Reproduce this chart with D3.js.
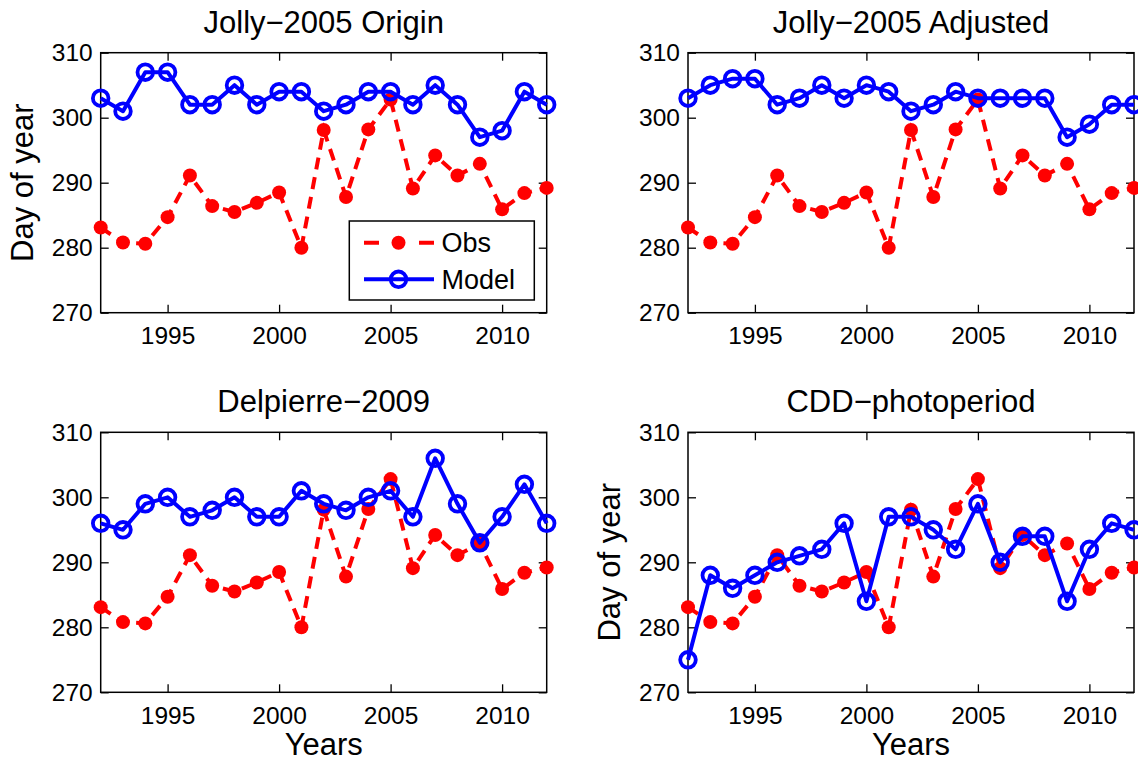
<!DOCTYPE html>
<html>
<head>
<meta charset="utf-8">
<script src="https://cdn.jsdelivr.net/npm/d3@7"></script>
<style>
  html, body { margin: 0; padding: 0; background: #ffffff; }
  svg { display: block; }
  text { font-family: "Liberation Sans", Arial, Helvetica, sans-serif; fill: #000; }
</style>
</head>
<body>
<svg id="chart" width="1138" height="765"></svg>
<script>
// ---------------- data ----------------
const years = [1992,1993,1994,1995,1996,1997,1998,1999,2000,2001,2002,2003,2004,2005,2006,2007,2008,2009,2010,2011,2012];
const obs = [283.1,280.8,280.6,284.7,291.1,286.4,285.5,286.9,288.5,280.0,298.1,287.8,298.2,302.8,289.1,294.2,291.1,292.9,285.9,288.4,289.2];
const modelJollyOrigin   = [303,301,307,307,302,302,305,302,304,304,301,302,304,304,302,305,302,297,298,304,302];
const modelJollyAdjusted = [303,305,306,306,302,303,305,303,305,304,301,302,304,303,303,303,303,297,299,302,302];
const modelDelpierre     = [296,295,299,300,297,298,300,297,297,301,299,298,300,301,297,306,299,293,297,302,296];
const modelCDD           = [275,288,286,288,290,291,292,296,284,297,297,295,292,299,290,294,294,284,292,296,295];
const panelTitles = ["Jolly\u22122005 Origin","Jolly\u22122005 Adjusted","Delpierre\u22122009","CDD\u2212photoperiod"];
const xTicks = [1995,2000,2005,2010];
const yTicks = [270,280,290,300,310];
const legendLabels = ["Obs","Model"];
const xLabel = "Years";
const yLabel = "Day of year";

// ---------------- layout ----------------
const W = 446, H = 260;
const panels = [
  {title: panelTitles[0], model: modelJollyOrigin,   left: 100.7, top: 52.7,  ylab: true,  xlab: false, legend: true},
  {title: panelTitles[1], model: modelJollyAdjusted, left: 688.0, top: 52.7,  ylab: false, xlab: false, legend: false},
  {title: panelTitles[2], model: modelDelpierre,     left: 100.7, top: 432.3, ylab: false, xlab: true,  legend: false},
  {title: panelTitles[3], model: modelCDD,           left: 688.0, top: 432.3, ylab: true,  xlab: true,  legend: false}
];
const RED = "#ff0000", BLUE = "#0000ff";
const svg = d3.select("#chart");

panels.forEach(p => {
  const x = d3.scaleLinear().domain([1992, 2012]).range([p.left, p.left + W]);
  const y = d3.scaleLinear().domain([270, 310]).range([p.top + H, p.top]);
  const g = svg.append("g");

  // box
  g.append("rect").attr("x", p.left).attr("y", p.top).attr("width", W).attr("height", H)
    .attr("fill", "none").attr("stroke", "#000").attr("stroke-width", 1.5);

  // axes (inward ticks)
  const axB = g.append("g").attr("transform", `translate(0,${p.top + H})`)
    .call(d3.axisBottom(x).tickValues(xTicks).tickFormat(d3.format("d")).tickSizeInner(-8).tickSizeOuter(0).tickPadding(14));
  const axT = g.append("g").attr("transform", `translate(0,${p.top})`)
    .call(d3.axisTop(x).tickValues(xTicks).tickFormat("").tickSizeInner(-8).tickSizeOuter(0));
  const axL = g.append("g").attr("transform", `translate(${p.left},0)`)
    .call(d3.axisLeft(y).tickValues(yTicks).tickFormat(d3.format("d")).tickSizeInner(-8).tickSizeOuter(0).tickPadding(8));
  const axR = g.append("g").attr("transform", `translate(${p.left + W},0)`)
    .call(d3.axisRight(y).tickValues(yTicks).tickFormat("").tickSizeInner(-8).tickSizeOuter(0));
  [axB, axT, axL, axR].forEach(a => {
    a.select(".domain").remove();
    a.selectAll(".tick line").attr("stroke", "#000").attr("stroke-width", 1.3);
    a.selectAll("text").style("font-size", "24.5px").attr("fill", "#000")
      .style("font-family", '"Liberation Sans", Arial, Helvetica, sans-serif');
  });

  // title
  g.append("text").attr("x", p.left + W / 2).attr("y", p.top - 20)
    .attr("text-anchor", "middle").style("font-size", "31px").text(p.title);

  if (p.ylab) {
    g.append("text")
      .attr("transform", `translate(${p.left - 68},${p.top + H / 2}) rotate(-90)`)
      .attr("text-anchor", "middle").style("font-size", "31px").text(yLabel);
  }
  if (p.xlab) {
    g.append("text").attr("x", p.left + W / 2).attr("y", p.top + H + 63)
      .attr("text-anchor", "middle").style("font-size", "31px").text(xLabel);
  }

  // obs series
  const line = d3.line().x((d, i) => x(years[i])).y(d => y(d));
  g.append("path").datum(obs).attr("d", line).attr("fill", "none")
    .attr("stroke", RED).attr("stroke-width", 4).attr("stroke-dasharray", "12,8");
  g.selectAll(".obsdot").data(obs).enter().append("circle")
    .attr("cx", (d, i) => x(years[i])).attr("cy", d => y(d)).attr("r", 7).attr("fill", RED);

  // model series
  g.append("path").datum(p.model).attr("d", line).attr("fill", "none")
    .attr("stroke", BLUE).attr("stroke-width", 4).attr("stroke-linejoin", "round");
  g.selectAll(".moddot").data(p.model).enter().append("circle")
    .attr("cx", (d, i) => x(years[i])).attr("cy", d => y(d)).attr("r", 7.8)
    .attr("fill", "none").attr("stroke", BLUE).attr("stroke-width", 3.8);

  if (p.legend) {
    const lg = g.append("g");
    lg.append("rect").attr("x", 349.3).attr("y", 221).attr("width", 185).attr("height", 79)
      .attr("fill", "#fff").attr("stroke", "#000").attr("stroke-width", 1.5);
    const rows = [242.7, 279.3];
    // Obs
    lg.append("line").attr("x1", 364).attr("x2", 434).attr("y1", rows[0]).attr("y2", rows[0])
      .attr("stroke", RED).attr("stroke-width", 4).attr("stroke-dasharray", "15,40,15");
    lg.append("circle").attr("cx", 398.5).attr("cy", rows[0]).attr("r", 7).attr("fill", RED);
    // Model
    lg.append("line").attr("x1", 364).attr("x2", 434).attr("y1", rows[1]).attr("y2", rows[1])
      .attr("stroke", BLUE).attr("stroke-width", 4);
    lg.append("circle").attr("cx", 398.5).attr("cy", rows[1]).attr("r", 7.8)
      .attr("fill", "none").attr("stroke", BLUE).attr("stroke-width", 3.8);
    legendLabels.forEach((t, i) => {
      lg.append("text").attr("x", 441.5).attr("y", rows[i]).attr("dy", "0.36em")
        .style("font-size", "27px").text(t);
    });
  }
});
</script>
</body>
</html>
